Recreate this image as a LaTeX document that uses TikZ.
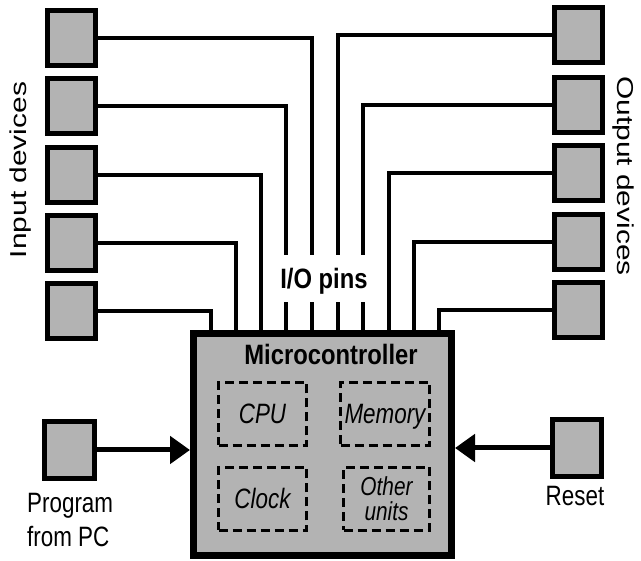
\documentclass[tikz,border=0pt]{standalone}
\usepackage{fontspec}
\setmainfont{Liberation Sans}
\newfontfamily\hfont{Liberation Sans}[FakeStretch=0.8]
\newfontfamily\hbfont{Liberation Sans Bold}[FakeStretch=0.85]
\newfontfamily\vfont{Liberation Sans}[FakeStretch=1.3]
\usetikzlibrary{arrows.meta}
\definecolor{boxgray}{HTML}{B3B3B3}
\begin{document}
\begin{tikzpicture}[x=1pt,y=-1pt,
  device/.style={draw, line width=5pt, fill=boxgray, minimum width=48pt,
    minimum height=55pt, inner sep=0pt},
  wire/.style={line width=4.5pt},
  feed/.style={line width=5pt, -{Triangle[length=20pt,width=27pt]}},
  unit/.style={draw, line width=3.5pt, dash pattern=on 9pt off 5pt, fill=boxgray,
    minimum height=63pt, inner sep=0pt, font=\hfont\itshape\fontsize{28}{23}\selectfont},
  caption/.style={font=\hfont\fontsize{28}{34}\selectfont, inner sep=0pt},
  side/.style={font=\vfont\fontsize{23}{26}\selectfont, inner sep=0pt},
]
\useasboundingbox (0,0) rectangle (641,561);

% input devices (left column)
\node[device] (L1) at (71.5,38) {};
\node[device] (L2) at (71.5,106) {};
\node[device] (L3) at (71.5,175) {};
\node[device] (L4) at (71.5,243) {};
\node[device] (L5) at (71.5,311) {};

% output devices (right column)
\node[device] (R1) at (578,35) {};
\node[device] (R2) at (578,105) {};
\node[device] (R3) at (578,173) {};
\node[device] (R4) at (578,242) {};
\node[device] (R5) at (578,310) {};

% pins along the top edge of the chip
\foreach \i/\px in {1/211,2/236,3/261,4/286,5/312,6/338,7/363,8/389,9/414,10/439}
  \coordinate (pin\i) at (\px,334);

% wiring from the devices to the pins
\draw[wire] (L1.east) -| (pin5);
\draw[wire] (L2.east) -| (pin4);
\draw[wire] (L3.east) -| (pin3);
\draw[wire] (L4.east) -| (pin2);
\draw[wire] (L5.east) -| (pin1);
\draw[wire] (R1.west) -| (pin6);
\draw[wire] (R2.west) -| (pin7);
\draw[wire] (R3.west) -| (pin8);
\draw[wire] (R4.west) -| (pin9);
\draw[wire] (R5.west) -| (pin10);

% pin label on a white patch over the wires
\node[fill=white, minimum width=90pt, minimum height=47pt, inner sep=0pt,
  text height=20pt, text depth=0pt,
  font=\hbfont\fontsize{28}{32}\selectfont] (io) at (324,278.5) {I/O pins};

% the microcontroller
\node[draw, line width=7pt, fill=boxgray, minimum width=258pt, minimum height=222pt,
  inner sep=0pt] (mcu) at (322.5,444.5) {};
\node[anchor=base, inner sep=0pt, font=\hbfont\fontsize{28}{32}\selectfont]
  (title) at (331,365) {Microcontroller};

\node[unit, minimum width=88pt, text height=20pt, text depth=0pt] (cpu) at (262.5,414) {CPU};
\node[unit, minimum width=89pt, text height=20pt, text depth=0pt] (mem) at (385,414) {Memory};
\node[unit, minimum width=88pt, text height=20pt, text depth=0pt] (clk) at (262.5,499) {Clock};
\node[unit, minimum width=86pt, align=center,
  font=\hfont\itshape\fontsize{26}{25}\selectfont] (oth) at (386.5,499) {Other\\units};

% programming and reset inputs
\node[device, minimum width=50pt, minimum height=57pt] (prog) at (69.5,450) {};
\node[device, minimum width=49pt, minimum height=57pt] (rst) at (577,448) {};
\draw[feed] (prog.east) -- (prog.east -| mcu.west);
\draw[feed] (rst.west) -- (rst.west -| mcu.east);

\node[caption, anchor=base west, align=left] (progtxt) at (27,547) {Program\\from PC};
\node[caption, anchor=base] (rsttxt) at (575,506) {Reset};

% column captions
\node[side, rotate=90, anchor=base] (intxt) at (27,170) {Input devices};
\node[side, rotate=-90, anchor=base] (outtxt) at (617,176) {Output devices};
\end{tikzpicture}
\end{document}
